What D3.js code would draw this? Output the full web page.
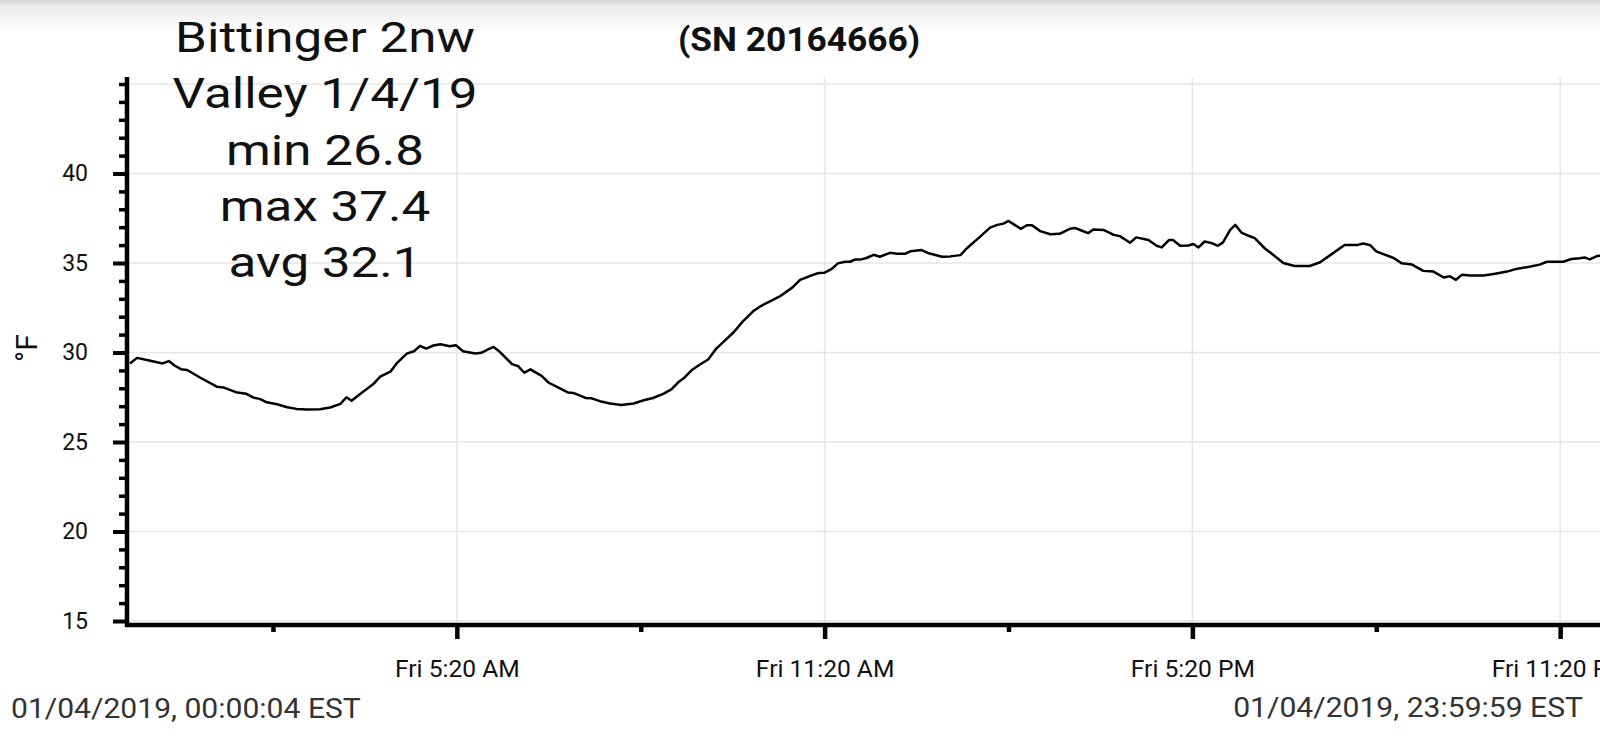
<html>
<head>
<script src="https://d3js.org/d3.v7.min.js"></script>
<style>
  body { margin: 0; background: #fff; overflow: hidden; }
  text { font-family: Roboto, "Noto Sans", sans-serif; }
</style>
</head>
<body>
<svg id="chart" width="1600" height="739"></svg>
<script>
// readings of the logger trace, 1/4/2019
const times = ["00:00","00:07","00:20","00:32","00:38","00:44","00:50","00:56","01:09","01:25",
  "01:32","01:45","01:54","02:01","02:07","02:14","02:24","02:34","02:43","02:53",
  "03:06","03:16","03:26","03:32","03:37","03:45","03:58","04:05","04:15","04:21",
  "04:31","04:38","04:44","04:50","04:57","05:04","05:13","05:19","05:26","05:38",
  "05:44","05:51","05:56","06:02","06:14","06:20","06:26","06:32","06:43","06:50",
  "07:01","07:09","07:14","07:26","07:32","07:40","07:50","08:01","08:13","08:23",
  "08:32","08:42","08:50","08:57","09:02","09:10","09:18","09:26","09:34","09:41",
  "09:51","10:00","10:10","10:18","10:27","10:36","10:48","10:56","11:06","11:14",
  "11:20","11:27","11:33","11:40","11:45","11:50","11:55","12:01","12:08","12:14",
  "12:24","12:31","12:39","12:44","12:55","13:02","13:15","13:23","13:33","13:39",
  "13:52","14:02","14:09","14:15","14:20","14:26","14:32","14:38","14:43","14:51",
  "15:01","15:10","15:20","15:25","15:32","15:38","15:43","15:53","16:03","16:09",
  "16:19","16:25","16:37","16:45","16:50","16:57","17:01","17:08","17:16","17:21",
  "17:26","17:32","17:39","17:45","17:50","17:57","18:02","18:08","18:15","18:21",
  "18:31","18:39","18:49","19:00","19:15","19:25","19:35","19:49","20:01","20:07",
  "20:14","20:20","20:27","20:37","20:45","20:55","21:06","21:16","21:26","21:32",
  "21:38","21:44","21:52","22:05","22:15","22:28","22:37","22:51","23:00","23:07",
  "23:23","23:31","23:39","23:44","23:49","23:56","23:59"];
const temps = [29.39,29.70,29.54,29.39,29.52,29.26,29.07,29.02,28.59,28.09,
  28.04,27.76,27.69,27.48,27.41,27.22,27.11,26.94,26.85,26.81,
  26.83,26.93,27.13,27.50,27.30,27.67,28.22,28.65,28.93,29.39,
  29.94,30.07,30.37,30.22,30.39,30.46,30.35,30.41,30.07,29.94,
  29.98,30.19,30.31,30.04,29.35,29.24,28.87,29.06,28.69,28.31,
  28.00,27.76,27.74,27.46,27.44,27.28,27.15,27.07,27.15,27.33,
  27.46,27.69,27.94,28.35,28.56,29.02,29.33,29.61,30.22,30.59,
  31.13,31.74,32.30,32.61,32.87,33.13,33.61,34.06,34.28,34.44,
  34.46,34.67,34.98,35.07,35.07,35.20,35.19,35.28,35.46,35.35,
  35.57,35.52,35.52,35.65,35.72,35.54,35.35,35.37,35.44,35.81,
  36.46,36.98,37.13,37.20,37.35,37.13,36.91,37.11,37.11,36.78,
  36.61,36.63,36.91,36.96,36.80,36.67,36.87,36.85,36.57,36.50,
  36.13,36.43,36.28,35.96,35.87,36.28,36.28,35.96,35.98,36.06,
  35.87,36.20,36.11,35.96,36.15,36.85,37.13,36.70,36.52,36.39,
  35.81,35.46,35.00,34.83,34.83,35.04,35.44,36.00,36.00,36.09,
  36.00,35.65,35.50,35.28,34.98,34.91,34.56,34.52,34.19,34.26,
  34.06,34.35,34.30,34.30,34.39,34.52,34.67,34.80,34.91,35.07,
  35.07,35.22,35.26,35.31,35.20,35.39,35.40];

const majorTimes = ["05:20","11:20","17:20","23:20"];
const minorTimes = ["02:20","08:20","14:20","20:20"];
const majorTemps = [15,20,25,30,35,40];
const gridTemps = [15,20,25,30,35,40,45];
const minorTemps = [16,17,18,19,21,22,23,24,26,27,28,29,31,32,33,34,36,37,38,39,41,42,43,44,45];

const titleLines = ["Bittinger 2nw","Valley 1/4/19","min 26.8","max 37.4","avg 32.1"];
const serial = "(SN 20164666)";
const startLabel = "01/04/2019, 00:00:04 EST";
const endLabel = "01/04/2019, 23:59:59 EST";

const parse = d3.timeParse("%m/%d/%Y %H:%M:%S");
const day = t => parse("01/04/2019 " + (t.length == 5 ? t + ":00" : t));
const data = times.map((t, i) => ({ t: day(t), v: temps[i] }));

const svg = d3.select("#chart");

// faint shadow band at the very top
const grad = svg.append("defs").append("linearGradient").attr("id", "topfade")
  .attr("x1", 0).attr("y1", 0).attr("x2", 0).attr("y2", 1);
grad.append("stop").attr("offset", "0%").attr("stop-color", "#d6d6d6");
grad.append("stop").attr("offset", "20%").attr("stop-color", "#ececec");
grad.append("stop").attr("offset", "100%").attr("stop-color", "#ffffff");
svg.append("rect").attr("x", 0).attr("y", 0).attr("width", 1600).attr("height", 32).attr("fill", "url(#topfade)");

const x = d3.scaleTime().domain([day("00:00:04"), day("23:59:59")]).range([130, 1601]);
const y = d3.scaleLinear().domain([15, 45]).range([621, 84]);
const axisX = 127, axisY = 625, axisTop = 77;

// grid
svg.append("g").selectAll("line").data(gridTemps).join("line")
  .attr("x1", axisX).attr("x2", 1600)
  .attr("y1", d => y(d)).attr("y2", d => y(d))
  .attr("stroke", "#e6e6e6").attr("stroke-width", 1.5);
svg.append("g").selectAll("line").data(majorTimes).join("line")
  .attr("x1", d => x(day(d))).attr("x2", d => x(day(d)))
  .attr("y1", axisTop).attr("y2", axisY)
  .attr("stroke", "#e6e6e6").attr("stroke-width", 1.5);

// trace
const line = d3.line().x(d => x(d.t)).y(d => y(d.v));
svg.append("path").datum(data).attr("d", line)
  .attr("fill", "none").attr("stroke", "#000").attr("stroke-width", 2.5)
  .attr("stroke-linejoin", "round");

// y axis
const yMajor = d3.axisLeft(y).tickValues(majorTemps).tickSize(14).tickPadding(25);
const gy = svg.append("g").attr("transform", "translate(" + axisX + ",0)").call(yMajor);
gy.select(".domain").remove();
gy.selectAll(".tick line").attr("stroke", "#000").attr("stroke-width", 4);
gy.selectAll(".tick text").attr("font-size", 23).attr("fill", "#111")
  .style("font-family", "Roboto");
const gyMinor = svg.append("g").attr("transform", "translate(" + axisX + ",0)")
  .call(d3.axisLeft(y).tickValues(minorTemps).tickSize(8).tickFormat(""));
gyMinor.select(".domain").remove();
gyMinor.selectAll(".tick line").attr("stroke", "#000").attr("stroke-width", 3.5);
svg.append("line").attr("x1", axisX).attr("x2", axisX).attr("y1", axisTop).attr("y2", axisY + 2)
  .attr("stroke", "#000").attr("stroke-width", 4.5);

// x axis
const fmt = d3.timeFormat("%a %-I:%M %p");
const gx = svg.append("g").attr("transform", "translate(0," + axisY + ")")
  .call(d3.axisBottom(x).tickValues(majorTimes.map(day)).tickSize(14).tickPadding(22).tickFormat(fmt));
gx.select(".domain").remove();
gx.selectAll(".tick line").attr("stroke", "#000").attr("stroke-width", 4.5);
gx.selectAll(".tick text").attr("font-size", 23).attr("fill", "#111")
  .attr("transform", "scale(1.07,1)")
  .style("font-family", "Roboto");
const gxMinor = svg.append("g").attr("transform", "translate(0," + axisY + ")")
  .call(d3.axisBottom(x).tickValues(minorTimes.map(day)).tickSize(7).tickFormat(""));
gxMinor.select(".domain").remove();
gxMinor.selectAll(".tick line").attr("stroke", "#000").attr("stroke-width", 4.5);
svg.append("line").attr("x1", axisX - 2).attr("x2", 1600).attr("y1", axisY).attr("y2", axisY)
  .attr("stroke", "#000").attr("stroke-width", 4.5);

// y label
svg.append("text").attr("transform", "translate(37,348) rotate(-90)")
  .attr("text-anchor", "middle").attr("font-size", 30).attr("fill", "#111").text("°F");

// station text block
svg.append("g").selectAll("text").data(titleLines).join("text")
  .attr("transform", (d, i) => "translate(325," + (52 + i * 56.3) + ") scale(1.19,1)")
  .attr("text-anchor", "middle").attr("font-size", 43).attr("fill", "#111")
  .text(d => d);

svg.append("text").attr("transform", "translate(799,51) scale(1.07,1)").attr("text-anchor", "middle")
  .attr("font-size", 33).attr("font-weight", "bold").attr("fill", "#111").text(serial);

svg.append("text").attr("transform", "translate(11,718) scale(1.075,1)")
  .attr("font-size", 28).attr("fill", "#333").text(startLabel);
svg.append("text").attr("transform", "translate(1583,717) scale(1.075,1)").attr("text-anchor", "end")
  .attr("font-size", 28).attr("fill", "#333").text(endLabel);
</script>
</body>
</html>
